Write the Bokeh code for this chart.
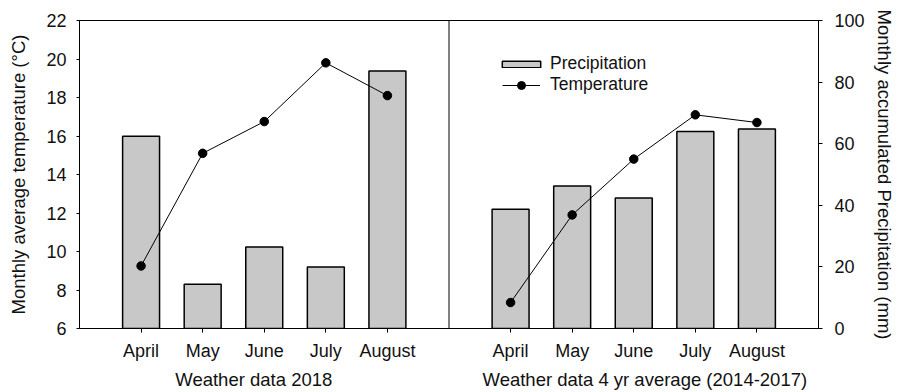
from bokeh.plotting import figure
from bokeh.models import (Range1d, LinearAxis, FixedTicker, Span, Legend, LegendItem)
from bokeh.embed import file_html
from bokeh.resources import INLINE
import numpy as np

months = ["April", "May", "June", "July", "August"]
panel_titles = ["Weather data 2018", "Weather data 4 yr average (2014-2017)"]
temp_2018 = [9.25, 15.1, 16.75, 19.8, 18.1]
precip_2018 = [62.4, 14.4, 26.5, 20.0, 83.6]
temp_avg = [7.35, 11.9, 14.8, 17.1, 16.7]
precip_avg = [38.7, 46.3, 42.4, 64.0, 64.8]
temp_ticks = list(range(6, 23, 2))
precip_ticks = list(range(0, 101, 20))

n = len(months)
x_left = np.arange(1, n + 1)
x_right = x_left + n + 1
divider = n + 1

FONT = "Liberation Sans"
BAR_FILL = "#c8c8c8"
TXT = "#111111"

p = figure(width=897, height=392, x_range=Range1d(0, 2 * (n + 1)),
           y_range=Range1d(temp_ticks[0], temp_ticks[-1]),
           output_backend="svg", toolbar_location=None,
           min_border_left=79, min_border_right=76, min_border_top=20,
           min_border_bottom=64)
p.extra_y_ranges = {"precip": Range1d(precip_ticks[0], precip_ticks[-1])}
p.grid.visible = False
p.outline_line_color = "black"
p.outline_line_width = 1
p.background_fill_color = "white"
p.border_fill_color = "white"

# bars (precipitation)
bar_l = p.vbar(x=x_left, top=precip_2018, width=0.6, bottom=0, y_range_name="precip",
               fill_color=BAR_FILL, line_color="black", line_width=1.5)
p.vbar(x=x_right, top=precip_avg, width=0.6, bottom=0, y_range_name="precip",
       fill_color=BAR_FILL, line_color="black", line_width=1.5)

# temperature lines
ln = p.line(x_left, temp_2018, line_color="black", line_width=1)
sc = p.scatter(x_left, temp_2018, size=8.5, fill_color="black", line_color="black")
p.line(x_right, temp_avg, line_color="black", line_width=1)
p.scatter(x_right, temp_avg, size=8.5, fill_color="black", line_color="black")

p.add_layout(Span(location=divider, dimension="height", line_color="black", line_width=1))

def style_axis(ax):
    ax.axis_line_color = "black"
    ax.major_tick_line_color = "black"
    ax.minor_tick_line_color = None
    ax.major_tick_in = 0
    ax.major_tick_out = 4
    ax.major_label_text_font = FONT
    ax.major_label_text_font_size = "18px"
    ax.major_label_text_color = TXT
    ax.axis_label_text_font = FONT
    ax.axis_label_text_font_size = "18.5px"
    ax.axis_label_text_font_style = "normal"
    ax.axis_label_text_color = TXT

# left axis
yl = p.yaxis[0]
style_axis(yl)
yl.ticker = FixedTicker(ticks=temp_ticks)
yl.axis_label = "Monthly average temperature (°C)"
yl.major_tick_out = 3
yl.major_label_standoff = 10
yl.axis_label_standoff = 14

# right axis
yr = LinearAxis(y_range_name="precip", ticker=FixedTicker(ticks=precip_ticks),
                axis_label="Monthly accumulated Precipitation (mm)")
style_axis(yr)
yr.major_label_standoff = 12
yr.axis_label_standoff = 6
p.add_layout(yr, "right")

# bottom month axis
xb = p.xaxis[0]
style_axis(xb)
ticks_x = list(x_left) + list(x_right)
xb.ticker = FixedTicker(ticks=[int(t) for t in ticks_x])
xb.major_label_overrides = {int(t): m for t, m in zip(ticks_x, months + months)}
xb.major_label_standoff = 8

# panel titles axis (label anchors under each panel)
t1, t2 = 2.83, 9.18
xt = LinearAxis(ticker=FixedTicker(ticks=[t1, t2]))
style_axis(xt)
xt.axis_line_color = None
xt.major_tick_line_color = None
xt.major_tick_out = 0
xt.major_label_text_font_size = "18.5px"
xt.major_label_standoff = 5
xt.major_label_overrides = {t1: panel_titles[0], t2: panel_titles[1]}
p.add_layout(xt, "below")

def make_legend(item, loc, gw, gh, standoff):
    lg = Legend(items=[item], location=loc)
    lg.label_text_font = FONT
    lg.label_text_font_size = "17.5px"
    lg.label_text_color = TXT
    lg.border_line_color = None
    lg.background_fill_alpha = 0
    lg.padding = 0
    lg.margin = 0
    lg.spacing = 0
    lg.glyph_width = gw
    lg.glyph_height = gh
    lg.label_standoff = standoff
    lg.label_height = 21
    return lg

leg_a = make_legend(LegendItem(label="Precipitation", renderers=[bar_l]),
                    (418, 254), 48, 8, 5)
leg_b = make_legend(LegendItem(label="Temperature", renderers=[ln, sc]),
                    (423, 233), 38, 20, 10)
p.add_layout(leg_a, "center")
p.add_layout(leg_b, "center")

open("out.html", "w").write(file_html(p, INLINE))
